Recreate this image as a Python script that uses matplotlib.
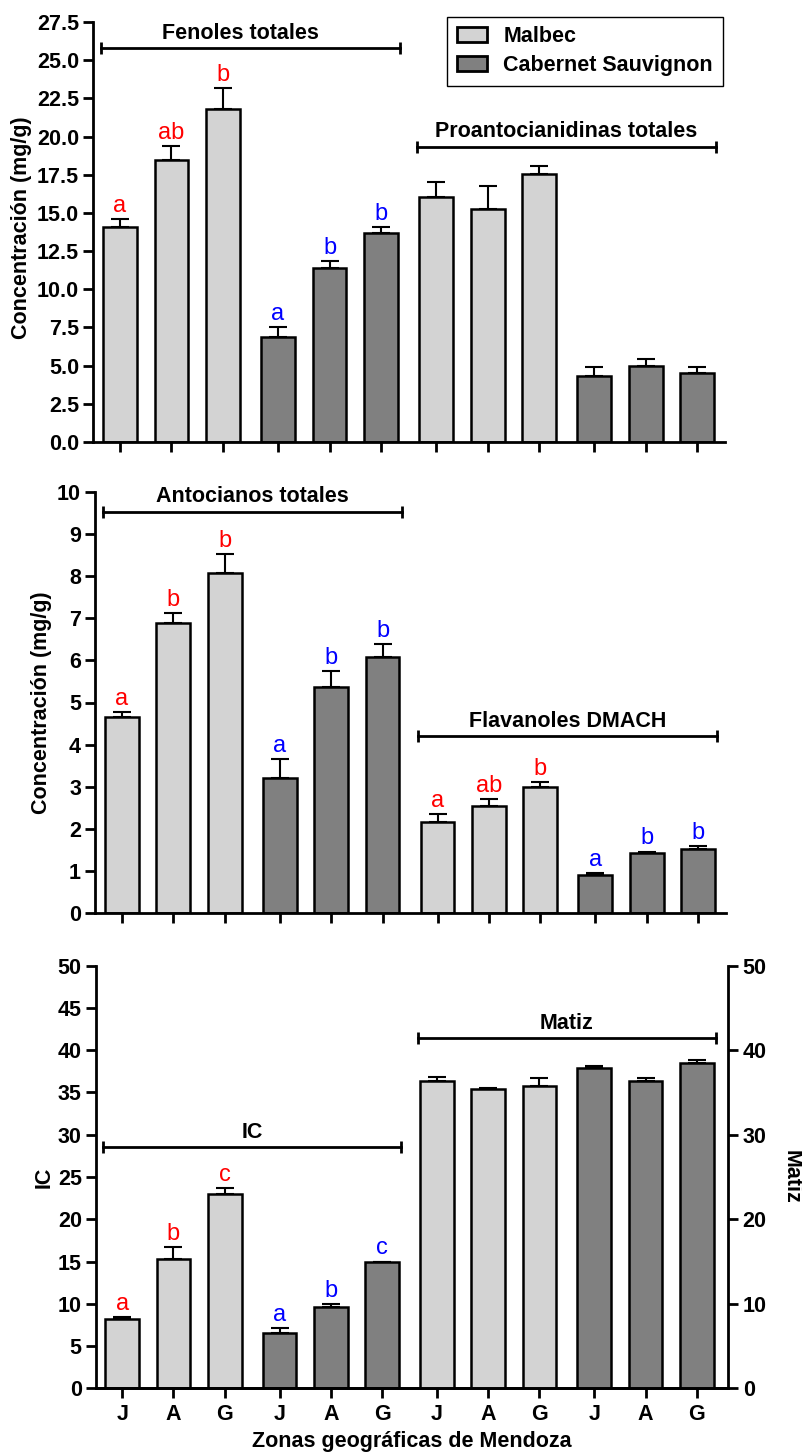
import matplotlib
matplotlib.use('Agg')
import matplotlib.pyplot as plt
import numpy as np
from matplotlib.patches import Patch

# zonas y variedades
zonas = ['J', 'A', 'G']
variedades = ['Malbec', 'Cabernet Sauvignon']

# panel 1 (mg/g)
fenoles_malbec = [14.1, 18.45, 21.83]
fenoles_malbec_err = [0.5, 0.95, 1.37]
fenoles_cs = [6.88, 11.4, 13.67]
fenoles_cs_err = [0.67, 0.47, 0.41]
proanto_malbec = [16.07, 15.24, 17.53]
proanto_malbec_err = [0.93, 1.52, 0.57]
proanto_cs = [4.3, 4.96, 4.52]
proanto_cs_err = [0.61, 0.48, 0.41]

# panel 2 (mg/g)
antoc_malbec = [4.65, 6.88, 8.07]
antoc_malbec_err = [0.13, 0.25, 0.46]
antoc_cs = [3.21, 5.38, 6.07]
antoc_cs_err = [0.45, 0.36, 0.31]
flav_malbec = [2.17, 2.53, 3.0]
flav_malbec_err = [0.19, 0.17, 0.1]
flav_cs = [0.9, 1.43, 1.53]
flav_cs_err = [0.05, 0.03, 0.07]

# panel 3
ic_malbec = [8.2, 15.27, 23.0]
ic_malbec_err = [0.24, 1.49, 0.74]
ic_cs = [6.58, 9.66, 14.9]
ic_cs_err = [0.52, 0.28, 0.1]
matiz_malbec = [36.37, 35.46, 35.78]
matiz_malbec_err = [0.47, 0.08, 0.98]
matiz_cs = [37.9, 36.37, 38.46]
matiz_cs_err = [0.2, 0.35, 0.39]

# letras de significancia
letras_fenoles_malbec = ['a', 'ab', 'b']
letras_fenoles_cs = ['a', 'b', 'b']
letras_antoc_malbec = ['a', 'b', 'b']
letras_antoc_cs = ['a', 'b', 'b']
letras_flav_malbec = ['a', 'ab', 'b']
letras_flav_cs = ['a', 'b', 'b']
letras_ic_malbec = ['a', 'b', 'c']
letras_ic_cs = ['a', 'b', 'c']

plt.rcParams['font.family'] = ['Liberation Sans', 'DejaVu Sans']
plt.rcParams['font.weight'] = 'bold'
plt.rcParams['axes.labelweight'] = 'bold'
plt.rcParams['font.size'] = 15.5
plt.rcParams['axes.linewidth'] = 2

light = '#d3d3d3'
dark = '#808080'
W = 802
H = 1452
bar_w = 0.66


def positions(group):
    # 3 bars per group, small extra gap between groups
    return [group * 3.07 + i for i in range(3)]


def draw_group(ax, group, vals, errs, color, letters=None, lcolor='red'):
    x = positions(group)
    ax.errorbar(x, vals, yerr=[np.zeros(3), errs], fmt='none', ecolor='k',
                elinewidth=1.5, capsize=6.4, capthick=1.5, zorder=1)
    ax.bar(x, vals, width=bar_w, color=color, edgecolor='k', linewidth=1.8, zorder=2)
    if letters:
        for xi, v, e, l in zip(x, vals, errs, letters):
            ax.annotate(l, (xi, v + e), xytext=(0, 1.5), textcoords='offset points',
                        ha='center', va='bottom', color=lcolor, fontsize=17,
                        fontweight='normal', annotation_clip=False)


def bracket(ax, g0, g1, y, title, dx=0.0):
    x0 = positions(g0)[0] - 0.37
    x1 = positions(g1)[2] + 0.37
    ax.plot([x0, x1], [y, y], color='k', lw=2, marker='|', ms=9, mew=2,
            clip_on=False, zorder=3)
    ax.annotate(title, ((x0 + x1) / 2 + dx, y), xytext=(0, 6.7),
                textcoords='offset points', ha='center', va='baseline',
                fontweight='bold', annotation_clip=False)


def style(ax, xlim, show_labels=False):
    ax.set_xlim(*xlim)
    ticks = positions(0) + positions(1) + positions(2) + positions(3)
    ax.set_xticks(ticks)
    ax.set_xticklabels(zonas * 4 if show_labels else [])
    ax.spines['top'].set_visible(False)
    ax.spines['right'].set_visible(False)
    ax.tick_params(axis='both', direction='out', length=7, width=2)
    ax.tick_params(axis='y', pad=3)
    ax.tick_params(axis='x', pad=4.5)


fig = plt.figure(figsize=(W / 100, H / 100), dpi=100)

# panel 1
ax1 = fig.add_axes([93 / W, 1 - 442 / H, (725 - 93) / W, (442 - 22) / H])
draw_group(ax1, 0, fenoles_malbec, fenoles_malbec_err, light, letras_fenoles_malbec, 'red')
draw_group(ax1, 1, fenoles_cs, fenoles_cs_err, dark, letras_fenoles_cs, 'blue')
draw_group(ax1, 2, proanto_malbec, proanto_malbec_err, light)
draw_group(ax1, 3, proanto_cs, proanto_cs_err, dark)
style(ax1, (-0.525, 11.754))
ax1.set_ylim(0, 27.5)
ax1.set_yticks(np.arange(0, 27.6, 2.5))
ax1.set_yticklabels(['%.1f' % t for t in np.arange(0, 27.6, 2.5)])
ax1.set_ylabel('Concentración (mg/g)')
ax1.yaxis.set_label_coords(-0.0965, 0.51)
bracket(ax1, 0, 1, 25.8, 'Fenoles totales', dx=-0.19)
bracket(ax1, 2, 3, 19.34, 'Proantocianidinas totales')

handles = [Patch(facecolor=light, edgecolor='k', linewidth=2),
           Patch(facecolor=dark, edgecolor='k', linewidth=2)]
leg = fig.legend(handles, variedades, loc='upper right',
                 bbox_to_anchor=(722.7 / W, 1 - 16.7 / H), borderaxespad=0,
                 fancybox=False, edgecolor='k', framealpha=1, handlelength=1.4,
                 handleheight=0.7, handletextpad=0.75, labelspacing=0.35,
                 borderpad=0.45, prop={'weight': 'bold', 'size': 15.5})
leg.get_frame().set_linewidth(1)

# panel 2
ax2 = fig.add_axes([95 / W, 1 - 913 / H, (726 - 95) / W, (913 - 492) / H])
draw_group(ax2, 0, antoc_malbec, antoc_malbec_err, light, letras_antoc_malbec, 'red')
draw_group(ax2, 1, antoc_cs, antoc_cs_err, dark, letras_antoc_cs, 'blue')
draw_group(ax2, 2, flav_malbec, flav_malbec_err, light, letras_flav_malbec, 'red')
draw_group(ax2, 3, flav_cs, flav_cs_err, dark, letras_flav_cs, 'blue')
style(ax2, (-0.525, 11.754))
ax2.set_ylim(0, 10)
ax2.set_yticks(range(0, 11))
ax2.set_ylabel('Concentración (mg/g)')
ax2.yaxis.set_label_coords(-0.0686, 0.5)
bracket(ax2, 0, 1, 9.53, 'Antocianos totales')
bracket(ax2, 2, 3, 4.2, 'Flavanoles DMACH')

# panel 3
ax3 = fig.add_axes([95.7 / W, 1 - 1388.3 / H, (728.3 - 95.7) / W, (1388.3 - 965.7) / H])
ax3b = ax3.twinx()
draw_group(ax3, 0, ic_malbec, ic_malbec_err, light, letras_ic_malbec, 'red')
draw_group(ax3, 1, ic_cs, ic_cs_err, dark, letras_ic_cs, 'blue')
draw_group(ax3b, 2, matiz_malbec, matiz_malbec_err, light)
draw_group(ax3b, 3, matiz_cs, matiz_cs_err, dark)
style(ax3, (-0.517, 11.824), show_labels=True)
ax3.set_ylim(0, 50)
ax3.set_yticks(range(0, 51, 5))
ax3.set_ylabel('IC')
ax3.yaxis.set_label_coords(-0.065, 0.5)
ax3.set_xlabel('Zonas geográficas de Mendoza')
ax3.xaxis.set_label_coords(0.5, -0.101)
bracket(ax3, 0, 1, 28.56, 'IC')

ax3b.set_xlim(-0.517, 11.824)
ax3b.set_ylim(0, 50)
ax3b.set_yticks(range(0, 51, 10))
ax3b.spines['top'].set_visible(False)
ax3b.spines['left'].set_visible(False)
ax3b.spines['right'].set_linewidth(2)
ax3b.tick_params(axis='y', direction='out', length=7, width=2, pad=3.4)
ax3b.set_ylabel('Matiz', rotation=270, va='bottom')
ax3b.yaxis.set_label_coords(1.0826, 0.5)
bracket(ax3b, 2, 3, 41.42, 'Matiz')

fig.savefig('out.png', dpi=100)
